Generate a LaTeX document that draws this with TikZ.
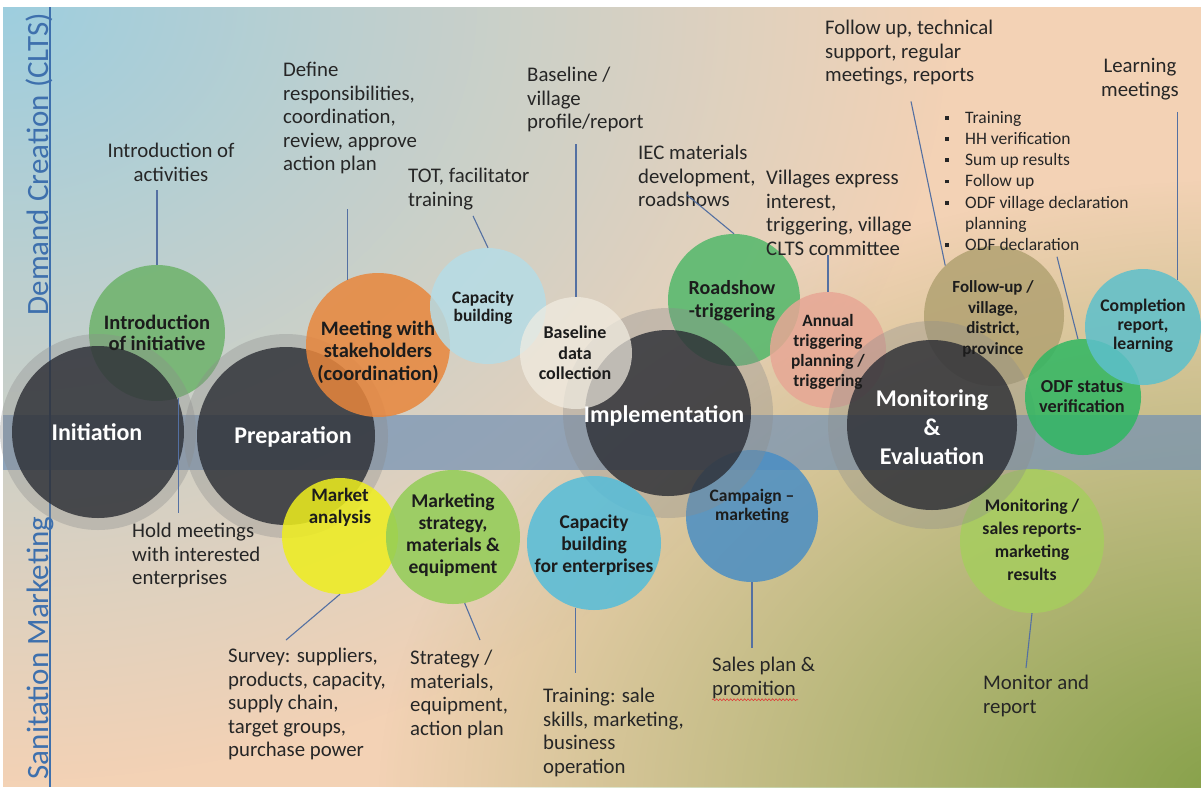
\documentclass[tikz,border=0pt]{standalone}
\usepackage{fontspec}
\setmainfont{Carlito}
\usetikzlibrary{fadings,decorations.pathmorphing}

\definecolor{cpeach}{HTML}{F3D2B5}
\definecolor{csky}{HTML}{9DCEDF}
\definecolor{colive}{HTML}{84A047}
\definecolor{cband}{HTML}{7290B4}
\definecolor{cphase}{HTML}{2A2C33}
\definecolor{chalo}{HTML}{8C8C8C}
\definecolor{cside}{HTML}{3E70AD}
\definecolor{clead}{HTML}{5470A2}
\definecolor{cnote}{HTML}{262626}
\definecolor{clbl}{HTML}{1C1C1C}
\definecolor{cintro}{HTML}{6DB26A}
\definecolor{croad}{HTML}{52B86A}
\definecolor{ccamp}{HTML}{4A8EC4}
\definecolor{cfup}{HTML}{B2A272}
\definecolor{cann}{HTML}{E7A795}
\definecolor{cmsr}{HTML}{A6CD5E}
\definecolor{cmeet}{HTML}{E8863C}
\definecolor{ccapb}{HTML}{B6DCE6}
\definecolor{cbase}{HTML}{F2EDE2}
\definecolor{cmarket}{HTML}{EEEE1E}
\definecolor{cmks}{HTML}{92CD56}
\definecolor{ccapent}{HTML}{55BDDA}
\definecolor{codf}{HTML}{30B762}
\definecolor{ccompl}{HTML}{5DC0CC}
\definecolor{cwave}{HTML}{E03030}

\tikzfading[name=glow, inner color=transparent!0, outer color=transparent!100]

\newcommand{\sqbul}{\makebox[20pt][l]{\rule[3.5pt]{3.8pt}{3.8pt}}}

\begin{document}
\begin{tikzpicture}[x=1pt, y=-1pt,
    halo/.style={circle, fill=chalo, fill opacity=0.35, inner sep=0pt},
    phase/.style={circle, fill=cphase, fill opacity=0.8, inner sep=0pt},
    act/.style={circle, fill opacity=0.85, inner sep=0pt},
    phaselbl/.style={text=white, font=\bfseries\fontsize{24}{29}\selectfont, align=center, inner sep=0pt},
    actlbl/.style={text=clbl, font=\bfseries\fontsize{17.5}{20.5}\selectfont, align=center, inner sep=0pt},
    note/.style={text=cnote, font=\fontsize{20.8}{23.5}\selectfont, align=left, inner sep=0pt, anchor=north west},
    lead/.style={draw=clead, line width=1.1pt},
    sidelbl/.style={text=cside, font=\fontsize{31}{36}\selectfont, rotate=90, anchor=base, inner sep=0pt}]

  \useasboundingbox (0,0) rectangle (1201,787);
  \fill[white] (0,0) rectangle (1201,787);

  % background
  \begin{scope}
    \clip (3,7) rectangle (1201,787);
    \fill[cpeach] (3,7) rectangle (1201,787);
    \fill[csky, path fading=glow] (0,0) ellipse (950pt and 780pt);
    \fill[colive, path fading=glow] (1240,800) ellipse (860pt and 620pt);
  \end{scope}
  \fill[cband, opacity=0.7] (3,415) rectangle (1201,470);

  % side labels
  \draw[cside, line width=1.3pt] (50,7) -- (50,787);
  \node[sidelbl] (demand) at (48,164) {Demand Creation (CLTS)};
  \node[sidelbl] (sanit) at (48,648) {Sanitation Marketing};

  % circles under the phases
  \node[act, fill=cintro, minimum size=136pt] (intro) at (157,333) {};
  \node[act, fill=croad, minimum size=132pt] (road) at (734,300) {};
  \node[act, fill=ccamp, minimum size=132pt] (campaign) at (752,516) {};
  \node[act, fill=cfup, minimum size=140pt] (fup) at (994,316) {};
  \node[act, fill=cann, minimum size=116pt] (annual) at (828,350) {};
  \node[act, fill=cmsr, minimum size=144pt] (monsales) at (1032,541) {};

  % phases
  \node[halo, minimum size=196pt] (inithalo) at (98,432) {};
  \node[halo, minimum size=204pt] (prephalo) at (286,436) {};
  \node[halo, minimum size=210pt] (implhalo) at (668,413) {};
  \node[halo, minimum size=208pt] (monhalo) at (932,425) {};
  \node[phase, minimum size=172pt] (init) at (98,432) {};
  \node[phase, minimum size=178pt] (prep) at (286,436) {};
  \node[phase, minimum size=166pt] (impl) at (668,413) {};
  \node[phase, minimum size=170pt] (mon) at (932,425) {};

  % circles over the phases
  \node[act, fill=cmeet, minimum size=144pt] (meet) at (378,345) {};
  \node[act, fill=ccapb, minimum size=116pt] (capb) at (488,306) {};
  \node[act, fill=cbase, fill opacity=0.7, minimum size=112pt] (basel) at (576,353) {};
  \node[act, fill=cmarket, minimum size=116pt] (market) at (340,536) {};
  \node[act, fill=cmks, minimum size=134pt] (mkstrat) at (453,537) {};
  \node[act, fill=ccapent, minimum size=134pt] (capent) at (594,543) {};
  \node[act, fill=codf, minimum size=116pt] (odf) at (1083,397) {};
  \node[act, fill=ccompl, minimum size=116pt] (compl) at (1143,327) {};

  % notes
  \node[note, align=center, anchor=north] (introtxt) at (171,143) {Introduction of\\activities};
  \node[note] (defintxt) at (283,62) {Define\\responsibilities,\\coordination,\\review, approve\\action plan};
  \node[note] (tottxt) at (408,168) {TOT, facilitator\\training};
  \node[note] (baseltxt) at (527,67) {Baseline /\\village\\profile/report};
  \node[note] (iectxt) at (638,145) {IEC materials\\development,\\roadshows};
  \node[note] (villtxt) at (766,170) {Villages express\\interest,\\triggering, village\\CLTS committee};
  \node[note] (folltxt) at (825,20) {Follow up, technical\\support, regular\\meetings, reports};
  \node[note, font=\fontsize{17.5}{21.2}\selectfont] (odftxt) at (945,111) {\sqbul Training\\\sqbul HH verification\\\sqbul Sum up results\\\sqbul Follow up\\\sqbul ODF village declaration\\\hspace*{20pt}planning\\\sqbul ODF declaration};
  \node[note, align=center, anchor=north] (learntxt) at (1140,58) {Learning\\meetings};
  \node[note] (holdtxt) at (132,523) {Hold meetings\\with interested\\enterprises};
  \node[note] (surveytxt) at (228,648) {Survey: suppliers,\\products, capacity,\\supply chain,\\target groups,\\purchase power};
  \node[note] (strattxt) at (410,650) {Strategy /\\materials,\\equipment,\\action plan};
  \node[note] (traintxt) at (543,688) {Training: sale\\skills, marketing,\\business\\operation};
  \node[note] (salestxt) at (712,657) {Sales plan \&\\promition};
  \node[note] (montxt) at (983,675) {Monitor and\\report};
  \draw[cwave, line width=0.6pt, decorate, decoration={snake, amplitude=0.9pt, segment length=3.5pt}]
    ([yshift=-1pt]salestxt.south west) -- ++(86,0);

  % connectors
  \draw[lead, shorten <=9pt] (introtxt.south -| intro.north) -- (intro.north);
  \draw[lead, shorten <=35pt] (defintxt.south -| meet.115) -- (meet.115);
  \draw[lead] ([xshift=65pt, yshift=-6pt]tottxt.south west) -- (capb.north);
  \draw[lead, shorten <=12pt] (baseltxt.south -| basel.north) -- (basel.north);
  \draw[lead] ([xshift=49pt, yshift=12pt]iectxt.south west) -- (road.north);
  \draw[lead] (villtxt.south -| annual.north) -- (annual.north);
  \draw[lead] ([xshift=86pt, yshift=-16pt]folltxt.south west) -- (fup.134);
  \draw[lead] ([xshift=112pt, yshift=-6pt]odftxt.south west) -- (odf.95);
  \draw[lead, shorten <=12pt] (learntxt.south -| compl.54) -- (compl.54);
  \draw[lead, shorten >=10pt] (intro.-72) -- (intro.-72 |- holdtxt.north);
  \draw[lead] (market.south) -- ([xshift=58pt, yshift=8pt]surveytxt.north west);
  \draw[lead] (mkstrat.-80) -- ([xshift=70pt, yshift=10pt]strattxt.north west);
  \draw[lead, shorten >=15pt] (capent.-106) -- (capent.-106 |- traintxt.north);
  \draw[lead, shorten >=9pt] (campaign.south) -- (campaign.south |- salestxt.north);
  \draw[lead] (monsales.south) -- ([xshift=43pt, yshift=7pt]montxt.north west);

  % circle labels
  \node[actlbl, font=\bfseries\fontsize{20.5}{21.5}\selectfont] (introlbl) at (157,333) {Introduction\\of initiative};
  \node[actlbl, font=\bfseries\fontsize{20.5}{22.5}\selectfont] (meetlbl) at (378,352) {Meeting with\\stakeholders\\(coordination)};
  \node[actlbl, font=\bfseries\fontsize{17.5}{18.5}\selectfont] (capblbl) at (483,308) {Capacity\\building};
  \node[actlbl, font=\bfseries\fontsize{18}{20.5}\selectfont] (basellbl) at (575,353) {Baseline\\data\\collection};
  \node[actlbl, font=\bfseries\fontsize{20}{23}\selectfont] (roadlbl) at (732,301) {Roadshow\\-triggering};
  \node[actlbl, font=\bfseries\fontsize{17.3}{20}\selectfont] (annlbl) at (828,352) {Annual\\triggering\\planning /\\triggering};
  \node[actlbl, font=\bfseries\fontsize{17}{20.5}\selectfont] (fuplbl) at (993,319) {Follow-up /\\village,\\district,\\province};
  \node[actlbl, font=\bfseries\fontsize{18.3}{20}\selectfont] (odflbl) at (1082,397) {ODF status\\verification};
  \node[actlbl, font=\bfseries\fontsize{17.7}{19}\selectfont] (compllbl) at (1143,326) {Completion\\report,\\learning};
  \node[actlbl, font=\bfseries\fontsize{19}{22}\selectfont] (marketlbl) at (340,507) {Market\\analysis};
  \node[actlbl, font=\bfseries\fontsize{19.5}{22}\selectfont] (mkslbl) at (453,535) {Marketing\\strategy,\\materials \&\\equipment};
  \node[actlbl, font=\bfseries\fontsize{19.5}{22}\selectfont] (capentlbl) at (594,545) {Capacity\\building\\for enterprises};
  \node[actlbl, font=\bfseries\fontsize{17.5}{19}\selectfont] (camplbl) at (752,506) {Campaign --\\marketing};
  \node[actlbl, font=\bfseries\fontsize{17.7}{23}\selectfont] (msrlbl) at (1032,540) {Monitoring /\\sales reports-\\marketing\\results};

  % phase labels
  \node[phaselbl] (initlbl) at (97,432) {Initiation};
  \node[phaselbl] (preplbl) at (293,437) {Preparation};
  \node[phaselbl] (impllbl) at (664,416) {Implementation};
  \node[phaselbl] (monlbl) at (932,427) {Monitoring\\\&\\Evaluation};
\end{tikzpicture}
\end{document}
